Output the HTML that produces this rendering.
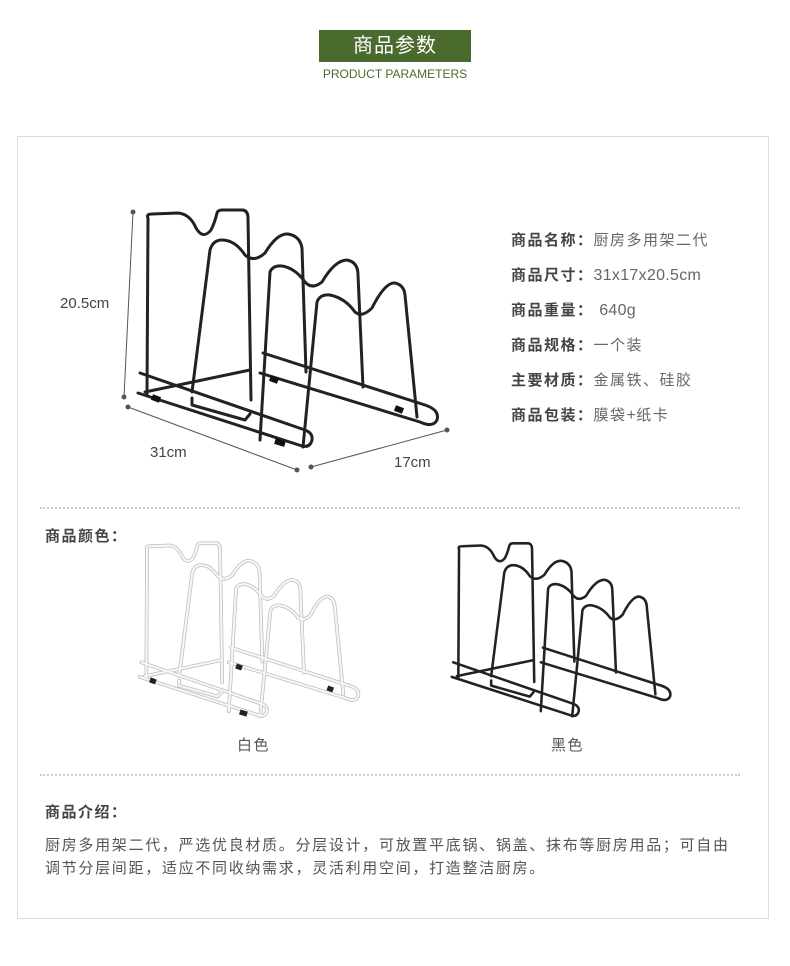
<!DOCTYPE html>
<html><head><meta charset="utf-8"><style>
body{margin:0;width:790px;height:966px;background:#fff;font-family:"Liberation Sans","Noto Sans CJK SC",sans-serif;position:relative;overflow:hidden}
.a{position:absolute;white-space:nowrap}
.hd{left:319px;top:30px;width:152px;height:32px;background:#4b6a2d;color:#fff;font-size:20px;line-height:32px;text-align:center;letter-spacing:1px}
.sub{left:300px;width:190px;top:67px;text-align:center;color:#4b6a2d;font-size:12px}
.card{left:17px;top:136px;width:750px;height:781px;border:1px solid #ddd}
.sp{left:511px;font-size:15px;color:#666;letter-spacing:1.5px}
.sp b{color:#444}
.sp i{font-style:normal;letter-spacing:0.3px;font-size:16px}
.dot{left:40px;width:700px;border-top:2px dotted #ccc;height:0}
.t{font-size:15px;color:#444;font-weight:bold;letter-spacing:1.5px}
.p{font-size:15px;color:#555;left:45px;letter-spacing:1.7px}
</style></head><body>
<div class="a hd">商品参数</div>
<div class="a sub">PRODUCT PARAMETERS</div>
<div class="a card"></div>
<svg class="a" style="left:0;top:0" width="790" height="966">
<defs>
<g id="r" fill="none" stroke-linecap="round" stroke-linejoin="round">
<path d="M147,395 L148,218 Q146,214 152,214 L178,213 Q190,214 196,228 Q203,240 211,230 Q215,222 217,213 Q218,210 222,210 L243,210 Q248,211 248,218 L251,400"/>
<path d="M192,392 L210,250 Q213,240 222,240 Q235,240 245,255 Q254,263 265,253 Q277,233 288,234 Q300,236 302,248 L306,372"/>
<path d="M260,440 L270,272 Q273,265 282,266 Q295,268 305,282 Q312,290 322,282 Q335,260 347,260 Q358,262 358,275 L363,387"/>
<path d="M303,447 L317,302 Q320,294 330,295 Q345,298 355,312 Q362,318 372,308 Q385,282 395,283 Q404,285 405,295 L417,417"/>
<path d="M140,373 L305,430 Q313,433 312,440 Q310,448 302,446 L138,393"/>
<path d="M145,392 L250,370 M263,353 L425,405 Q440,410 437,420 Q433,428 420,422 L260,373"/>
<path d="M192,398 L192,405 L245,420 L250,414"/>
</g>
</defs>
<g stroke="#222" stroke-width="3"><use href="#r"/></g>
<g stroke="#111" stroke-width="6"><path d="M152,397 L160,400 M275,441 L285,444 M270,378 L278,381 M395,408 L403,411"/></g>
<g stroke="#555" stroke-width="1" fill="#555">
<line x1="133" y1="212" x2="124" y2="397"/><circle cx="133" cy="212" r="2"/><circle cx="124" cy="397" r="2"/>
<line x1="128" y1="407" x2="297" y2="470"/><circle cx="128" cy="407" r="2"/><circle cx="297" cy="470" r="2"/>
<line x1="311" y1="467" x2="447" y2="430"/><circle cx="311" cy="467" r="2"/><circle cx="447" cy="430" r="2"/>
</g>
<g transform="translate(39,390) scale(0.73)"><g stroke="#bbb" stroke-width="5"><use href="#r"/></g><g stroke="#f6f6f6" stroke-width="3"><use href="#r"/></g>
<g stroke="#222" stroke-width="7"><path d="M152,397 L160,400 M275,441 L285,444 M270,378 L278,381 M395,408 L403,411"/></g></g>
<g transform="translate(351,390) scale(0.73)"><g stroke="#222" stroke-width="3.5"><use href="#r"/></g></g>
</svg>
<div class="a" style="left:60px;top:295px;font-size:15px;color:#444">20.5cm</div>
<div class="a" style="left:150px;top:444px;font-size:15px;color:#444">31cm</div>
<div class="a" style="left:394px;top:454px;font-size:15px;color:#444">17cm</div>
<div class="a sp" style="top:229px"><b>商品名称：</b>厨房多用架二代</div>
<div class="a sp" style="top:264px"><b>商品尺寸：</b><i>31x17x20.5cm</i></div>
<div class="a sp" style="top:299px"><b>商品重量：</b> <i>640g</i></div>
<div class="a sp" style="top:334px"><b>商品规格：</b>一个装</div>
<div class="a sp" style="top:369px"><b>主要材质：</b>金属铁、硅胶</div>
<div class="a sp" style="top:404px"><b>商品包装：</b>膜袋<i>+</i>纸卡</div>
<div class="a dot" style="top:507px"></div>
<div class="a t" style="left:45px;top:525px">商品颜色：</div>
<div class="a" style="left:237px;top:734px;font-size:15px;color:#555;letter-spacing:1.5px">白色</div>
<div class="a" style="left:551px;top:734px;font-size:15px;color:#555;letter-spacing:1.5px">黑色</div>
<div class="a dot" style="top:774px"></div>
<div class="a t" style="left:45px;top:801px">商品介绍：</div>
<div class="a p" style="top:834px">厨房多用架二代，严选优良材质。分层设计，可放置平底锅、锅盖、抹布等厨房用品；可自由</div>
<div class="a p" style="top:857px">调节分层间距，适应不同收纳需求，灵活利用空间，打造整洁厨房。</div>
</body></html>
